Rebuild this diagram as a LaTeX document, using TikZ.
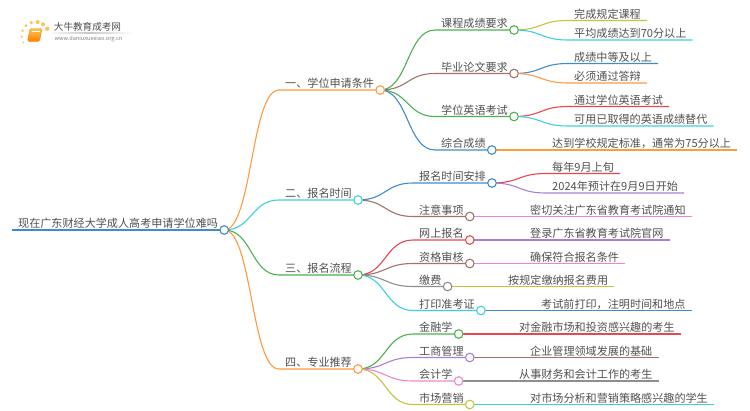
\documentclass[tikz,border=0pt]{standalone}
\usepackage{fontspec}
\setmainfont{Noto Sans CJK SC}
\definecolor{cOrange}{HTML}{FF9A3D}
\definecolor{cCyan}{HTML}{3CCFE2}
\definecolor{cGreen}{HTML}{4DB14F}
\definecolor{cBlue}{HTML}{3F8CCB}
\definecolor{cBrown}{HTML}{A1736B}
\definecolor{cRed}{HTML}{E8474F}
\definecolor{cPurple}{HTML}{A67FD8}
\definecolor{cPink}{HTML}{EE85CF}
\definecolor{cGray}{HTML}{8E8E8E}
\definecolor{cOlive}{HTML}{C8C33E}
\definecolor{cText}{HTML}{505050}
\definecolor{cGold}{HTML}{F9C655}
\tikzset{
    label/.style={anchor=south west, inner xsep=6pt, inner ysep=0pt, text=cText,
        text height=10pt, text depth=2.2pt, font=\fontsize{11.1}{13}\selectfont},
    branch/.style={line width=1.1pt},
    dot/.style={circle, fill=white, line width=1.1pt, inner sep=0pt, minimum size=8.6pt}
}
\begin{document}
\begin{tikzpicture}[x=1pt, y=-1pt]

    \useasboundingbox (0, 0) rectangle (750, 410);

    % logo
    \foreach \px/\py/\pr in {26/25.7/1.6, 31.3/22.7/1.8, 37.7/22/2, 43/24.3/2, 47.3/28.7/2.2, 22.7/30.7/1.3, 21.7/36.7/1.1, 23.3/42.3/1}
        \fill [cGold] (\px, \py) circle (\pr);
    \draw [rounded corners=1.5pt, top color=cGold, bottom color=orange, draw=orange] (30, 28.5) -- (42, 28.5) -- (39.5, 41.5) -- (27.5, 41.5) -- cycle;
    \draw [white, line width=0.5pt] (32, 31.5) -- (39.5, 31.5);
    \node (logoname) at (87.5, 27) [text=black!70, font=\fontsize{9.6}{11}\selectfont] {大牛教育成考网};
    \node (logourl) at (88.5, 38.8) [text=black!50, font=\fontsize{5.6}{7}\selectfont] {www.daniuxuexiao.org.cn};
    \shade [left color=white, right color=white, middle color=black!22] (46, 32.9) rectangle (133, 33.5);

    % text of the root and of the four parts
    \node (n0) at (12, 230) [label] {现在广东财经大学成人高考申请学位难吗};
    \node (n1) at (279, 90) [label] {一、学位申请条件};
    \node (n2) at (279, 200) [label] {二、报名时间};
    \node (n3) at (279, 275) [label] {三、报名流程};
    \node (n4) at (279, 369) [label] {四、专业推荐};

    % second level
    \node (n11) at (435, 30) [label] {课程成绩要求};
    \node (n12) at (435, 73.5) [label] {毕业论文要求};
    \node (n13) at (435, 116.5) [label] {学位英语考试};
    \node (n14) at (435, 150) [label] {综合成绩};
    \node (n21) at (413, 183) [label] {报名时间安排};
    \node (n22) at (413, 216.5) [label] {注意事项};
    \node (n31) at (413, 240) [label] {网上报名};
    \node (n32) at (413, 263.5) [label] {资格审核};
    \node (n33) at (413, 286.5) [label] {缴费};
    \node (n34) at (413, 310.5) [label] {打印准考证};
    \node (n41) at (413, 334) [label] {金融学};
    \node (n42) at (413, 357.5) [label] {工商管理};
    \node (n43) at (413, 381) [label] {会计学};
    \node (n44) at (413, 404.5) [label] {市场营销};

    % leaves
    \node (n111) at (568, 20.5) [label] {完成规定课程};
    \node (n112) at (568, 40) [label] {平均成绩达到70分以上};
    \node (n121) at (568, 63.5) [label] {成绩中等及以上};
    \node (n122) at (568, 83) [label] {必须通过答辩};
    \node (n131) at (568, 106.5) [label] {通过学位英语考试};
    \node (n132) at (568, 126) [label] {可用已取得的英语成绩替代};
    \node (n141) at (546, 150) [label] {达到学校规定标准\char"FF0C 通常为75分以上};
    \node (n211) at (546, 173.5) [label] {每年9月上旬};
    \node (n212) at (546, 193) [label] {2024年预计在9月9日开始};
    \node (n221) at (524, 216.5) [label] {密切关注广东省教育考试院通知};
    \node (n311) at (524, 240) [label] {登录广东省教育考试院官网};
    \node (n321) at (524, 263.5) [label] {确保符合报名条件};
    \node (n331) at (502, 286.5) [label] {按规定缴纳报名费用};
    \node (n341) at (535, 310.5) [label] {考试前打印\char"FF0C 注明时间和地点};
    \node (n411) at (513, 334) [label] {对金融市场和投资感兴趣的考生};
    \node (n421) at (524, 357.5) [label] {企业管理领域发展的基础};
    \node (n431) at (513, 381) [label] {从事财务和会计工作的考生};
    \node (n441) at (524, 404.5) [label] {对市场分析和营销策略感兴趣的学生};

    % root and its branches
    \draw [cBlue, line width=2pt] (n0.south west) -- (n0.south east);
    \draw [branch, cOrange] (n0.south east) .. controls +(28, 0) and +(-28, 0) .. (n1.south west) -- (n1.south east);
    \draw [branch, cCyan] (n0.south east) .. controls +(28, 0) and +(-28, 0) .. (n2.south west) -- (n2.south east);
    \draw [branch, cGreen] (n0.south east) .. controls +(28, 0) and +(-28, 0) .. (n3.south west) -- (n3.south east);
    \draw [branch, cOrange] (n0.south east) .. controls +(28, 0) and +(-28, 0) .. (n4.south west) -- (n4.south east);

    \draw [branch, cGreen] (n1.south east) .. controls +(28, 0) and +(-28, 0) .. (n11.south west) -- (n11.south east);
    \draw [branch, cBrown] (n1.south east) .. controls +(28, 0) and +(-28, 0) .. (n12.south west) -- (n12.south east);
    \draw [branch, cGreen] (n1.south east) .. controls +(28, 0) and +(-28, 0) .. (n13.south west) -- (n13.south east);
    \draw [branch, cBlue] (n1.south east) .. controls +(28, 0) and +(-28, 0) .. (n14.south west) -- (n14.south east);
    \draw [branch, cBlue] (n2.south east) .. controls +(28, 0) and +(-28, 0) .. (n21.south west) -- (n21.south east);
    \draw [branch, cBrown] (n2.south east) .. controls +(28, 0) and +(-28, 0) .. (n22.south west) -- (n22.south east);
    \draw [branch, cRed] (n3.south east) .. controls +(28, 0) and +(-28, 0) .. (n31.south west) -- (n31.south east);
    \draw [branch, cBrown] (n3.south east) .. controls +(28, 0) and +(-28, 0) .. (n32.south west) -- (n32.south east);
    \draw [branch, cGray] (n3.south east) .. controls +(28, 0) and +(-28, 0) .. (n33.south west) -- (n33.south east);
    \draw [branch, cCyan] (n3.south east) .. controls +(28, 0) and +(-28, 0) .. (n34.south west) -- (n34.south east);
    \draw [branch, cGreen] (n4.south east) .. controls +(28, 0) and +(-28, 0) .. (n41.south west) -- (n41.south east);
    \draw [branch, cPurple] (n4.south east) .. controls +(28, 0) and +(-28, 0) .. (n42.south west) -- (n42.south east);
    \draw [branch, cPink] (n4.south east) .. controls +(28, 0) and +(-28, 0) .. (n43.south west) -- (n43.south east);
    \draw [branch, cOlive] (n4.south east) .. controls +(28, 0) and +(-28, 0) .. (n44.south west) -- (n44.south east);

    \draw [branch, cOlive] (n11.south east) .. controls +(28, 0) and +(-28, 0) .. (n111.south west) -- (n111.south east);
    \draw [branch, cCyan] (n11.south east) .. controls +(28, 0) and +(-28, 0) .. (n112.south west) -- (n112.south east);
    \draw [branch, cBlue] (n12.south east) .. controls +(28, 0) and +(-28, 0) .. (n121.south west) -- (n121.south east);
    \draw [branch, cOrange] (n12.south east) .. controls +(28, 0) and +(-28, 0) .. (n122.south west) -- (n122.south east);
    \draw [branch, cRed] (n13.south east) .. controls +(28, 0) and +(-28, 0) .. (n131.south west) -- (n131.south east);
    \draw [branch, cCyan] (n13.south east) .. controls +(28, 0) and +(-28, 0) .. (n132.south west) -- (n132.south east);
    \draw [branch, cOrange] (n14.south east) -- (n141.south west) -- (n141.south east);
    \draw [branch, cRed] (n21.south east) .. controls +(28, 0) and +(-28, 0) .. (n211.south west) -- (n211.south east);
    \draw [branch, cPurple] (n21.south east) .. controls +(28, 0) and +(-28, 0) .. (n212.south west) -- (n212.south east);
    \draw [branch, cPink] (n22.south east) -- (n221.south west) -- (n221.south east);
    \draw [branch, cPurple] (n31.south east) -- (n311.south west) -- (n311.south east);
    \draw [branch, cPink] (n32.south east) -- (n321.south west) -- (n321.south east);
    \draw [branch, cOlive] (n33.south east) -- (n331.south west) -- (n331.south east);
    \draw [branch, cBlue] (n34.south east) -- (n341.south west) -- (n341.south east);
    \draw [branch, cRed] (n41.south east) -- (n411.south west) -- (n411.south east);
    \draw [branch, cBrown] (n42.south east) -- (n421.south west) -- (n421.south east);
    \draw [branch, cGray] (n43.south east) -- (n431.south west) -- (n431.south east);
    \draw [branch, cCyan] (n44.south east) -- (n441.south west) -- (n441.south east);

    % circles on the line ends
    \node (c0) at (n0.south east) [dot, draw=cBlue] {};
    \node (c1) at (n1.south east) [dot, draw=cOrange] {};
    \node (c2) at (n2.south east) [dot, draw=cCyan] {};
    \node (c3) at (n3.south east) [dot, draw=cGreen] {};
    \node (c4) at (n4.south east) [dot, draw=cOrange] {};
    \node (c11) at (n11.south east) [dot, draw=cGreen] {};
    \node (c12) at (n12.south east) [dot, draw=cBrown] {};
    \node (c13) at (n13.south east) [dot, draw=cGreen] {};
    \node (c14) at (n14.south east) [dot, draw=cBlue] {};
    \node (c21) at (n21.south east) [dot, draw=cBlue] {};
    \node (c22) at (n22.south east) [dot, draw=cBrown] {};
    \node (c31) at (n31.south east) [dot, draw=cRed] {};
    \node (c32) at (n32.south east) [dot, draw=cBrown] {};
    \node (c33) at (n33.south east) [dot, draw=cGray] {};
    \node (c34) at (n34.south east) [dot, draw=cCyan] {};
    \node (c41) at (n41.south east) [dot, draw=cGreen] {};
    \node (c42) at (n42.south east) [dot, draw=cPurple] {};
    \node (c43) at (n43.south east) [dot, draw=cPink] {};
    \node (c44) at (n44.south east) [dot, draw=cOlive] {};

\end{tikzpicture}
\end{document}
